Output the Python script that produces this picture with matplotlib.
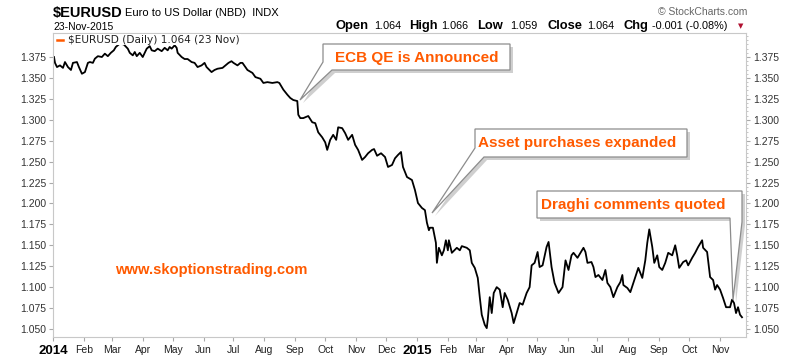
import matplotlib.pyplot as plt
import matplotlib.dates as mdates
import numpy as np
import pandas as pd

# Данные: дневной курс EUR/USD
dates = [
    '2014-01-02', '2014-01-03', '2014-01-05', '2014-01-08', '2014-01-11', '2014-01-13', '2014-01-16',
    '2014-01-19', '2014-01-21', '2014-01-25', '2014-01-27', '2014-01-30', '2014-02-02', '2014-02-05',
    '2014-02-07', '2014-02-10', '2014-02-12', '2014-02-15', '2014-02-19', '2014-02-22', '2014-02-25',
    '2014-02-28', '2014-03-03', '2014-03-05', '2014-03-09', '2014-03-13', '2014-03-17', '2014-03-19',
    '2014-03-22', '2014-03-24', '2014-03-26', '2014-03-29', '2014-04-01', '2014-04-03', '2014-04-05',
    '2014-04-08', '2014-04-10', '2014-04-13', '2014-04-16', '2014-04-20', '2014-04-23', '2014-04-26',
    '2014-04-28', '2014-04-30', '2014-05-03', '2014-05-05', '2014-05-06', '2014-05-10', '2014-05-13',
    '2014-05-16', '2014-05-20', '2014-05-23', '2014-05-26', '2014-05-30', '2014-06-02', '2014-06-04',
    '2014-06-09', '2014-06-12', '2014-06-15', '2014-06-20', '2014-06-23', '2014-06-26', '2014-06-29',
    '2014-07-01', '2014-07-05', '2014-07-08', '2014-07-10', '2014-07-15', '2014-07-20', '2014-07-23',
    '2014-07-28', '2014-07-31', '2014-08-04', '2014-08-09', '2014-08-14', '2014-08-16', '2014-08-20',
    '2014-08-24', '2014-08-27', '2014-08-30', '2014-09-03', '2014-09-04', '2014-09-06', '2014-09-09',
    '2014-09-14', '2014-09-18', '2014-09-21', '2014-09-24', '2014-09-28', '2014-10-01', '2014-10-03',
    '2014-10-06', '2014-10-09', '2014-10-12', '2014-10-14', '2014-10-18', '2014-10-21', '2014-10-24',
    '2014-10-28', '2014-10-31', '2014-11-03', '2014-11-07', '2014-11-10', '2014-11-13', '2014-11-17',
    '2014-11-19', '2014-11-22', '2014-11-26', '2014-11-30', '2014-12-03', '2014-12-07', '2014-12-10',
    '2014-12-13', '2014-12-16', '2014-12-18', '2014-12-22', '2014-12-27', '2014-12-30', '2015-01-02',
    '2015-01-06', '2015-01-09', '2015-01-11', '2015-01-13', '2015-01-14', '2015-01-17', '2015-01-20',
    '2015-01-21', '2015-01-23', '2015-01-26', '2015-01-28', '2015-01-30', '2015-02-01', '2015-02-02',
    '2015-02-05', '2015-02-10', '2015-02-13', '2015-02-15', '2015-02-20', '2015-02-23', '2015-02-25',
    '2015-02-28', '2015-03-03', '2015-03-05', '2015-03-07', '2015-03-10', '2015-03-12', '2015-03-13',
    '2015-03-15', '2015-03-17', '2015-03-19', '2015-03-22', '2015-03-25', '2015-03-28', '2015-03-30',
    '2015-04-02', '2015-04-06', '2015-04-08', '2015-04-11', '2015-04-14', '2015-04-17', '2015-04-21',
    '2015-04-24', '2015-04-26', '2015-04-29', '2015-05-02', '2015-05-04', '2015-05-07', '2015-05-11',
    '2015-05-13', '2015-05-16', '2015-05-19', '2015-05-23', '2015-05-27', '2015-05-30', '2015-06-02',
    '2015-06-05', '2015-06-07', '2015-06-11', '2015-06-14', '2015-06-17', '2015-06-19', '2015-06-21',
    '2015-06-25', '2015-06-27', '2015-06-29', '2015-07-02', '2015-07-06', '2015-07-09', '2015-07-11',
    '2015-07-14', '2015-07-17', '2015-07-21', '2015-07-24', '2015-07-26', '2015-07-27', '2015-07-31',
    '2015-08-03', '2015-08-07', '2015-08-11', '2015-08-15', '2015-08-18', '2015-08-20', '2015-08-22',
    '2015-08-25', '2015-08-27', '2015-08-30', '2015-09-01', '2015-09-04', '2015-09-07', '2015-09-10',
    '2015-09-14', '2015-09-17', '2015-09-19', '2015-09-21', '2015-09-25', '2015-09-28', '2015-09-30',
    '2015-10-04', '2015-10-07', '2015-10-10', '2015-10-14', '2015-10-15', '2015-10-19', '2015-10-22',
    '2015-10-25', '2015-10-27', '2015-10-29', '2015-11-01', '2015-11-04', '2015-11-07', '2015-11-11',
    '2015-11-13', '2015-11-15', '2015-11-17', '2015-11-19', '2015-11-21', '2015-11-23',
]
closes = [
    1.375, 1.368, 1.363, 1.365, 1.362, 1.369, 1.363,
    1.3595, 1.368, 1.369, 1.363, 1.355, 1.357, 1.368,
    1.369, 1.368, 1.373, 1.376, 1.375, 1.379, 1.376,
    1.380, 1.383, 1.387, 1.391, 1.390, 1.385, 1.380,
    1.377, 1.381, 1.376, 1.380, 1.375, 1.380, 1.385,
    1.388, 1.383, 1.382, 1.385, 1.382, 1.386, 1.383,
    1.387, 1.385, 1.389, 1.386, 1.380, 1.375, 1.3726,
    1.3726, 1.369, 1.368, 1.363, 1.365, 1.368, 1.363,
    1.357, 1.3595, 1.361, 1.362, 1.365, 1.368, 1.370,
    1.368, 1.365, 1.368, 1.368, 1.3595, 1.356, 1.351,
    1.349, 1.344, 1.345, 1.344, 1.345, 1.344, 1.336,
    1.330, 1.326, 1.3236, 1.3224, 1.306, 1.302, 1.302,
    1.3045, 1.297, 1.296, 1.285, 1.279, 1.273, 1.264,
    1.276, 1.282, 1.276, 1.291, 1.290, 1.284, 1.276,
    1.282, 1.270, 1.264, 1.252, 1.2555, 1.260, 1.264,
    1.265, 1.257, 1.260, 1.2555, 1.2436, 1.246, 1.254,
    1.258, 1.2615, 1.2436, 1.2316, 1.228, 1.216, 1.2005,
    1.1946, 1.192, 1.177, 1.168, 1.171, 1.171, 1.153,
    1.129, 1.147, 1.138, 1.144, 1.156, 1.144, 1.156,
    1.141, 1.147, 1.144, 1.149, 1.147, 1.144, 1.129,
    1.123, 1.111, 1.088, 1.067, 1.055, 1.051, 1.061,
    1.088, 1.069, 1.093, 1.100, 1.097, 1.076, 1.093,
    1.085, 1.069, 1.057, 1.069, 1.081, 1.079, 1.093,
    1.100, 1.126, 1.129, 1.142, 1.124, 1.126, 1.148,
    1.154, 1.124, 1.105, 1.093, 1.100, 1.132, 1.1205,
    1.138, 1.141, 1.135, 1.141, 1.147, 1.142, 1.129,
    1.130, 1.124, 1.112, 1.1145, 1.1085, 1.1205, 1.105,
    1.100, 1.088, 1.100, 1.106, 1.1145, 1.1025, 1.099,
    1.094, 1.1085, 1.123, 1.111, 1.132, 1.153, 1.169,
    1.148, 1.129, 1.138, 1.124, 1.1205, 1.129, 1.141,
    1.138, 1.150, 1.138, 1.123, 1.130, 1.132, 1.126,
    1.135, 1.141, 1.148, 1.156, 1.147, 1.142, 1.112,
    1.1085, 1.097, 1.1025, 1.097, 1.087, 1.076, 1.076,
    1.085, 1.081, 1.069, 1.076, 1.067, 1.064,
]
y_ticks = [1.050, 1.075, 1.100, 1.125, 1.150, 1.175, 1.200, 1.225,
           1.250, 1.275, 1.300, 1.325, 1.350, 1.375]
month_starts = pd.date_range('2014-01-01', '2015-11-01', freq='MS')

ORANGE = '#ff5a00'
W, H = 800, 357


def fx(x):
    return x / W


def fy(y):
    return 1 - y / H


fig = plt.figure(figsize=(8, 3.57), dpi=100)
ax = fig.add_axes([fx(53), fy(337), fx(746) - fx(53), fy(33) - fy(337)])

ax.plot(pd.to_datetime(dates), closes, color='black', lw=1.3, zorder=2)

ax.set_xlim(pd.Timestamp('2014-01-01'), pd.Timestamp('2015-11-27'))
ax.set_ylim(1.0404, 1.4037)

# Рамка
for s in ax.spines.values():
    s.set_color('#c8c8c8')
    s.set_linewidth(0.8)

# Ось Y с обеих сторон
ax.set_yticks(y_ticks)
ax.set_yticklabels([f'{v:.3f}' for v in y_ticks])
ax.tick_params(axis='y', which='major', left=True, right=True, labelleft=True, labelright=True,
               labelsize=7.5, labelcolor='#333333', color='#aaaaaa', length=3, pad=2)
ax.yaxis.set_minor_locator(plt.MultipleLocator(0.005))
ax.tick_params(axis='y', which='minor', left=False, right=True, length=1.5, color='#bbbbbb')

# Ось X: месяцы
ax.set_xticks(month_starts)
labels = [str(d.year) if d.month == 1 else d.strftime('%b') for d in month_starts]
ax.set_xticklabels(labels)
ax.tick_params(axis='x', labelsize=7.5, color='#aaaaaa', length=3, pad=3, labelcolor='#222222')
for lab, d in zip(ax.get_xticklabels(), month_starts):
    lab.set_fontfamily('Liberation Sans')
    if d.month == 1:
        lab.set_fontweight('bold')
        lab.set_fontsize(9.5)
        lab.set_color('black')
for lab in ax.get_yticklabels():
    lab.set_fontfamily('Liberation Sans')

# Заголовок
fig.text(fx(53), fy(13), '$EURUSD', fontsize=10.5, fontweight='bold', family='Liberation Sans', va='center')
fig.text(fx(125), fy(13), 'Euro to US Dollar (NBD)  INDX', fontsize=8, family='Liberation Sans', va='center')
fig.text(fx(53), fy(27), '23-Nov-2015', fontsize=7.5, family='Liberation Sans', va='center')
fig.text(fx(747), fy(12), '\u00a9 StockCharts.com', fontsize=7.5, color='#666666',
         family='Liberation Sans', va='center', ha='right')

header = [('Open', True, 335), ('1.064', False, 374), ('High', True, 409), ('1.066', False, 441),
          ('Low', True, 477), ('1.059', False, 510), ('Close', True, 547), ('1.064', False, 587),
          ('Chg', True, 624), ('-0.001 (-0.08%)', False, 652)]
for txt, bold, x in header:
    fig.text(fx(x), fy(26), txt, fontsize=9.3 if bold else 7.8,
             fontweight='bold' if bold else 'normal', family='Liberation Sans', va='center')
fig.text(fx(741), fy(26.5), '\u25bc', fontsize=5, color='#b01030', va='center', ha='center')

# Легенда
ax.plot([0.006, 0.014], [0.978, 0.978], transform=ax.transAxes, color=ORANGE, lw=1.8, zorder=4)
ax.text(0.022, 0.978, '$EURUSD (Daily) 1.064 (23 Nov)', transform=ax.transAxes, fontsize=7.6,
        va='center', color='#222222', zorder=4,
        bbox=dict(facecolor='white', edgecolor='none', pad=0.5))


# Выноски
def callout(pts, text, tx, ty):
    shadow = [(fx(x + 3), fy(y + 3)) for x, y in pts]
    fig.patches.append(plt.Polygon(shadow, closed=True, transform=fig.transFigure,
                                   facecolor='#cfcfcf', edgecolor='none', zorder=5))
    fig.patches.append(plt.Polygon([(fx(x), fy(y)) for x, y in pts], closed=True,
                                   transform=fig.transFigure, facecolor='white',
                                   edgecolor='#8c8c8c', lw=0.9, zorder=6))
    fig.text(fx(tx), fy(ty), text, fontsize=11, fontweight='bold', color=ORANGE,
             family='Liberation Sans', va='center', zorder=7)


callout([(323, 44), (510, 44), (510, 70), (332, 70), (300, 100), (323, 62)],
        'ECB QE is Announced', 335, 58)
callout([(475, 129), (687, 129), (687, 157), (484, 157), (432, 213), (475, 148)],
        'Asset purchases expanded', 478, 143)
callout([(537, 191), (742, 191), (742, 222), (733, 300), (730, 218), (537, 218)],
        'Draghi comments quoted', 541, 205)

fig.text(fx(115), fy(270), 'www.skoptionstrading.com', fontsize=10.6, fontweight='bold',
         color=ORANGE, family='Liberation Sans', va='center')

fig.savefig('out.png', dpi=100)
